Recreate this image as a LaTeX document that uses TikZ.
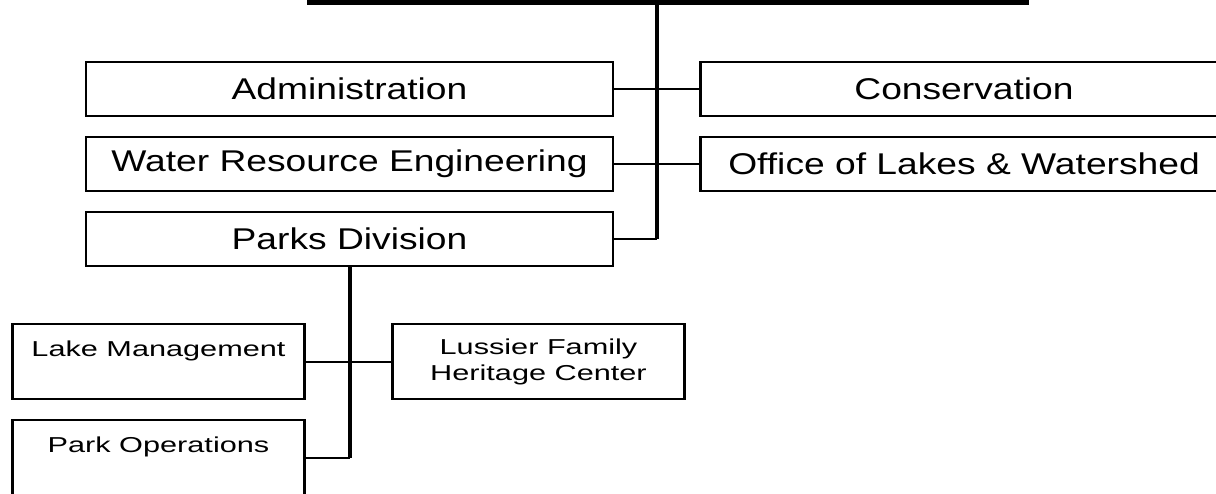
\documentclass[tikz,border=0pt]{standalone}
\usepackage{fontspec}
\setmainfont{Liberation Sans}
\newfontfamily\unitfont[FakeStretch=1.24]{Liberation Sans}
\newfontfamily\subfont[FakeStretch=1.42]{Liberation Sans}
\usepackage{tikz}

\begin{document}
\begin{tikzpicture}[x=1pt,y=-1pt,
    unit/.style={rectangle,draw,line width=2.4pt,minimum width=527pt,minimum height=54pt,
      inner sep=0pt,font=\unitfont\fontsize{30}{36}\selectfont},
    subunit/.style={rectangle,draw,line width=2.4pt,minimum width=292pt,minimum height=75pt,
      inner sep=0pt,align=center,font=\subfont\fontsize{21.6}{26}\selectfont},
    link/.style={line width=2pt},
    trunk/.style={line width=4pt}]

\path[fill=white,use as bounding box] (0,0) rectangle (1216,493);

% Head box, only its lower edge shows
\node[rectangle,draw,line width=5pt,minimum width=717pt,minimum height=100pt] (head) at (668,-47.5) {};

% Divisions
\node[unit] (admin) at (349.5,89) {Administration};
\node[unit] (cons) at (964,89) {Conservation};
\node[unit] (wre) at (349.5,164) {Water Resource Engineering};
\node[unit] (olw) at (964,164) {Office of Lakes \& Watershed};
\node[unit] (parks) at (349.5,239) {Parks Division};

% Sections under parks
\node[subunit] (lake) at (158.5,361.5) {Lake Management\\ \mbox{}};
\node[subunit] (lussier) at (538.5,361.5) {Lussier Family\\Heritage Center};
\node[subunit] (parkops) at (158.5,457.5) {Park Operations\\ \mbox{}};

% Main spine
\coordinate (spine) at (657,5);
\draw[trunk] (spine) -- (spine |- parks.east);
\draw[link] (admin.east) -- (cons.west);
\draw[link] (wre.east) -- (olw.west);
\draw[link] (parks.east) -- (spine |- parks.east);

% Parks spine
\draw[trunk] (parks.south) -- (parks.south |- parkops.east);
\draw[link] (lake.east) -- (lussier.west);
\draw[link] (parkops.east) -- (parks.south |- parkops.east);

\end{tikzpicture}
\end{document}
